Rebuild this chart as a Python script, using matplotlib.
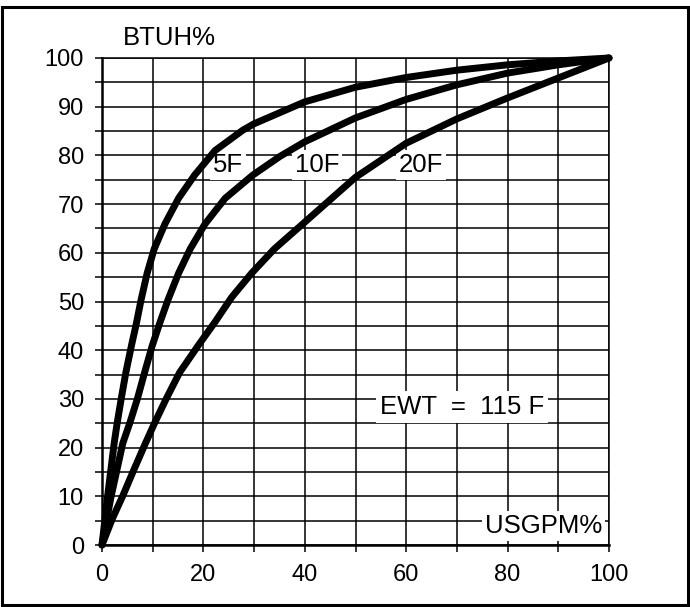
import matplotlib.pyplot as plt
import numpy as np
from matplotlib.patches import Rectangle

plt.rcParams['font.family'] = ['Liberation Sans', 'DejaVu Sans']

# curves: USGPM% vs BTUH%
x_5F = [0, 1.1, 2.4, 3.0, 3.8, 4.7, 5.8, 6.8, 7.7, 8.9, 10.3, 12.4, 15.1, 18.3, 22.3,
        27.8, 30, 40, 50, 60, 70, 80, 90, 100]
y_5F = [0, 10, 20.9, 25.1, 30.1, 35.4, 40.9, 45.6, 50.3, 55.8, 60.8, 65.9, 71.2, 76, 81,
        85.2, 86.5, 91, 94, 96, 97.5, 98.6, 99.4, 100]

x_10F = [0, 1.8, 4.1, 5.5, 7.0, 8.4, 9.9, 11.4, 13.0, 15.1, 17.4, 20.3, 24.3, 29.8, 35.1,
         40, 50, 60, 70, 80, 90, 100]
y_10F = [0, 10, 20.9, 25.1, 30.1, 35.4, 40.9, 45.6, 50.3, 55.8, 60.8, 65.9, 71.2, 76, 79.8,
         82.8, 87.7, 91.5, 94.5, 96.9, 98.6, 100]

x_20F = [0, 2.0, 4.1, 6.1, 8.4, 10.4, 12.7, 15.3, 19.0, 22.3, 25.6, 29.5, 34, 40, 50, 60,
         70, 80, 90, 100]
y_20F = [0, 5.3, 10.1, 15, 20.5, 25.1, 30.1, 35.4, 41, 45.8, 50.9, 55.8, 60.8, 66.3, 75.5,
         82.5, 87.5, 91.8, 95.9, 100]

curve_labels = ['5F', '10F', '20F']
label_x = [21.9, 38.1, 58.6]
label_y = [78.0, 78.0, 78.0]

x_ticks = [0, 20, 40, 60, 80, 100]
y_ticks = [0, 10, 20, 30, 40, 50, 60, 70, 80, 90, 100]

fig = plt.figure(figsize=(6.9, 6.07), dpi=100)
ax = fig.add_axes([102/690, 62/607, 507/690, 487/607])

ax.set_xlim(0, 100)
ax.set_ylim(0, 100)

# grid: every 10 on x, every 5 on y
for gx in np.arange(0, 101, 10):
    ax.axvline(gx, color='black', linewidth=1.1, zorder=1)
for gy in np.arange(0, 101, 5):
    ax.axhline(gy, color='black', linewidth=1.1, zorder=1)

for xs, ys in [(x_5F, y_5F), (x_10F, y_10F), (x_20F, y_20F)]:
    ax.plot(xs, ys, color='black', linewidth=5, solid_joinstyle='round',
            solid_capstyle='round', zorder=3, clip_on=False)

fs_note = 18.5
box = dict(facecolor='white', edgecolor='none', pad=2)
for t, lx, ly in zip(curve_labels, label_x, label_y):
    ax.text(lx, ly, t, fontsize=fs_note, va='center', ha='left', bbox=box, zorder=2)

ax.text(54.8, 28.3, 'EWT  =  115 F', fontsize=fs_note, va='center', ha='left',
        bbox=dict(facecolor='white', edgecolor='none', pad=3), zorder=2)
ax.text(98.6, 3.9, 'USGPM%', fontsize=fs_note, va='center', ha='right',
        bbox=dict(facecolor='white', edgecolor='none', pad=2), zorder=2)
ax.text(4.1, 104.1, 'BTUH%', fontsize=fs_note, va='center', ha='left', clip_on=False)

ax.set_xticks(np.arange(0, 101, 10))
ax.set_xticklabels([str(v) if v in x_ticks else '' for v in range(0, 101, 10)])
ax.set_yticks(np.arange(0, 101, 5))
ax.set_yticklabels([str(v) if v in y_ticks else '' for v in range(0, 101, 5)])
ax.tick_params(axis='both', direction='out', length=5, width=1.1, labelsize=17)
ax.tick_params(axis='x', pad=8.5)
ax.tick_params(axis='y', pad=8)

for s in ['left', 'bottom']:
    ax.spines[s].set_linewidth(1.8)
for s in ['top', 'right']:
    ax.spines[s].set_linewidth(1.1)

# border around the whole figure
fig.patches.append(Rectangle((2/690, 2/607), 686/690, 598/607, transform=fig.transFigure,
                             fill=False, edgecolor='black', linewidth=2.2))

plt.savefig('out.png', dpi=100)
